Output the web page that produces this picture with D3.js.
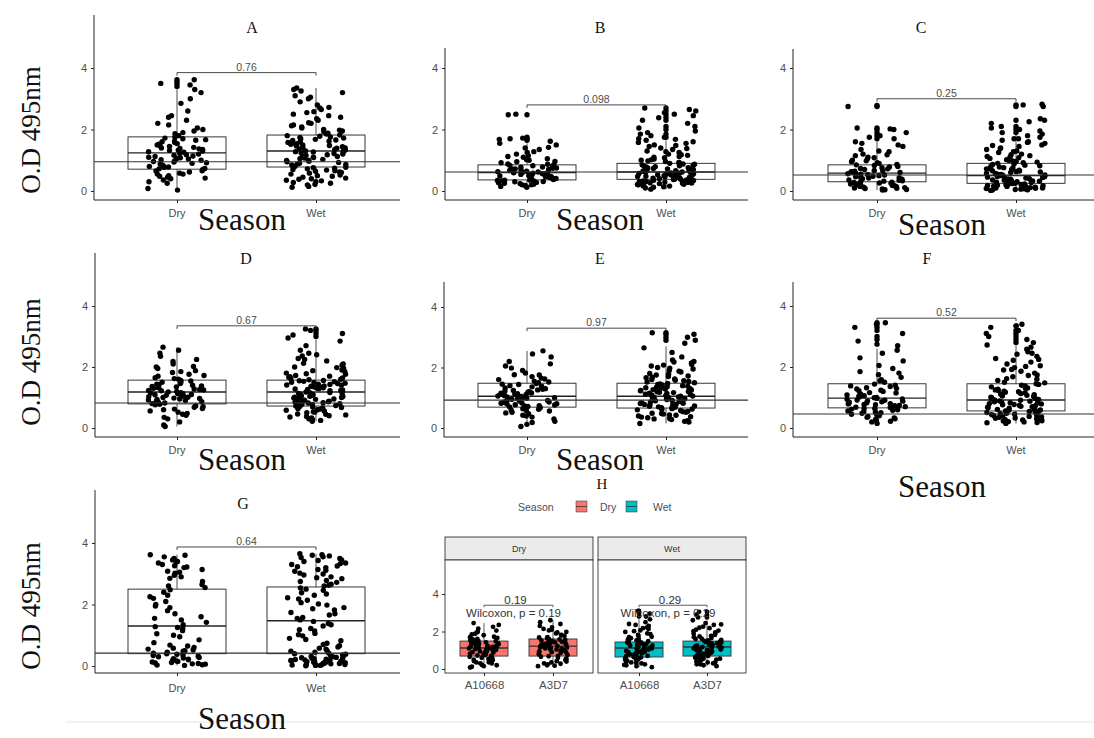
<!DOCTYPE html>
<html lang="en">
<head>
<meta charset="UTF-8">
<title>O.D 495nm by season</title>
<style>
  body { margin: 0; background: #fff; }
  svg { display: block; }
  .tick text { font-family: "Liberation Sans", Arial, sans-serif; fill: #4d4d4d; }
</style>
<script src="https://d3js.org/d3.v7.min.js"></script>
</head>
<body>
<script>
var seasons = ["Dry", "Wet"];
var yTicks = [0, 2, 4];
var panelNames = ["A", "B", "C", "D", "E", "F", "G"];
var pValues = ["0.76", "0.098", "0.25", "0.67", "0.97", "0.52", "0.64"];
var cutoffs = [0.95, 0.62, 0.52, 0.82, 0.92, 0.46, 0.42];
var bracketY = [3.85, 2.8, 3.0, 3.35, 3.3, 3.6, 3.87];

// box stats: [q1, median, q3, lower whisker, upper whisker]
var boxDry = [
  [0.71, 1.24, 1.76, 0.03, 3.3], [0.36, 0.60, 0.85, 0.10, 1.55], [0.30, 0.58, 0.85, 0.03, 1.6],
  [0.79, 1.18, 1.57, 0.05, 2.65], [0.69, 1.05, 1.48, 0.05, 2.55], [0.66, 0.98, 1.45, 0.15, 2.6],
  [0.40, 1.30, 2.50, 0.02, 3.62]
];
var boxWet = [
  [0.78, 1.30, 1.82, 0.12, 3.35], [0.38, 0.62, 0.90, 0.06, 1.65], [0.25, 0.50, 0.90, 0.03, 1.85],
  [0.72, 1.18, 1.57, 0.22, 2.9], [0.66, 1.05, 1.48, 0.15, 2.7], [0.56, 0.92, 1.45, 0.15, 2.7],
  [0.40, 1.47, 2.57, 0.01, 3.65]
];
var outDry = [
  [3.4, 3.48, 3.55, 3.62], [1.65, 1.7, 1.75, 2.48], [1.7, 1.8, 1.9, 2.0, 2.05, 2.75, 2.78],
  [], [], [2.75, 2.9, 3.0, 3.2, 3.3, 3.4, 3.45], []
];
var outWet = [
  [], [1.75, 1.85, 2.0, 2.1, 2.3, 2.4, 2.5, 2.6, 2.7], [1.9, 2.0, 2.1, 2.3, 2.75, 2.8],
  [3.0, 3.1, 3.2, 3.25], [2.9, 3.0, 3.1, 3.15], [2.8, 2.9, 3.0, 3.1, 3.2, 3.35], []
];

var aDry = [0.03, 0.08, 0.25, 0.3, 0.36, 0.42, 0.45, 0.5, 0.55, 0.58, 0.62, 0.66, 0.7, 0.73, 0.77, 0.8, 0.85, 0.88, 0.92, 0.96, 1.0, 1.04, 1.08, 1.12, 1.16, 1.2, 1.26, 1.3, 1.33, 1.37, 1.4, 1.45, 1.5, 1.54, 1.58, 1.62, 1.67, 1.72, 1.75, 1.8, 1.86, 1.95, 2.05, 2.15, 2.3, 2.45, 2.6, 2.85, 3.0, 3.2, 3.3, 3.45, 3.62, 3.5,
  0.55, 0.65, 0.72, 0.78, 0.82, 0.9, 0.94, 0.98, 1.06, 1.1, 1.14, 1.18, 1.22, 1.28, 1.32, 1.35, 1.42, 1.47, 1.52, 1.6, 1.65, 1.7, 1.9, 2.0, 2.2, 2.4, 0.4, 0.48, 1.02, 1.38];
var aWet = [0.12, 0.15, 0.2, 0.22, 0.28, 0.3, 0.35, 0.4, 0.45, 0.5, 0.52, 0.58, 0.62, 0.66, 0.7, 0.74, 0.77, 0.8, 0.83, 0.86, 0.9, 0.93, 0.97, 1.0, 1.03, 1.07, 1.1, 1.14, 1.18, 1.22, 1.25, 1.28, 1.3, 1.33, 1.37, 1.4, 1.44, 1.48, 1.52, 1.56, 1.6, 1.64, 1.68, 1.72, 1.76, 1.8, 1.82, 1.88, 1.95, 2.0, 2.08, 2.15, 2.22, 2.3, 2.4, 2.5, 2.58, 2.65, 2.72, 2.8, 2.9, 3.0, 3.05, 3.1, 3.2, 3.25, 3.3, 3.35,
  0.25, 0.33, 0.38, 0.42, 0.48, 0.55, 0.6, 0.64, 0.68, 0.72, 0.76, 0.85, 0.88, 0.95, 0.99, 1.05, 1.09, 1.12, 1.16, 1.2, 1.24, 1.27, 1.32, 1.35, 1.39, 1.42, 1.46, 1.5, 1.54, 1.58, 1.62, 1.66, 1.7, 1.74, 1.78, 1.85, 1.92, 1.98, 2.05, 2.12, 2.2, 2.35, 2.45, 2.55, 2.7];
var bDry = [0.12, 0.15, 0.18, 0.2, 0.22, 0.25, 0.27, 0.3, 0.32, 0.34, 0.36, 0.38, 0.4, 0.42, 0.45, 0.47, 0.5, 0.52, 0.55, 0.57, 0.6, 0.62, 0.64, 0.67, 0.7, 0.72, 0.75, 0.78, 0.8, 0.83, 0.85, 0.88, 0.92, 0.96, 1.0, 1.05, 1.1, 1.15, 1.2, 1.28, 1.35, 1.42, 1.5, 1.55, 1.62, 1.68, 1.7, 1.72, 2.48, 2.5,
  0.2, 0.24, 0.28, 0.31, 0.35, 0.37, 0.41, 0.44, 0.46, 0.49, 0.51, 0.54, 0.56, 0.59, 0.61, 0.63, 0.66, 0.69, 0.71, 0.74, 0.77, 0.82, 0.87, 0.95, 1.02, 1.12, 1.25, 1.4, 0.33, 0.58];
var bWet = [0.06, 0.1, 0.14, 0.17, 0.2, 0.22, 0.24, 0.26, 0.28, 0.3, 0.32, 0.34, 0.36, 0.38, 0.4, 0.42, 0.44, 0.46, 0.48, 0.5, 0.52, 0.54, 0.56, 0.58, 0.6, 0.62, 0.64, 0.66, 0.68, 0.7, 0.73, 0.76, 0.79, 0.82, 0.85, 0.88, 0.9, 0.93, 0.96, 1.0, 1.04, 1.08, 1.12, 1.16, 1.2, 1.25, 1.3, 1.35, 1.4, 1.45, 1.5, 1.55, 1.6, 1.65, 1.7, 1.75, 1.8, 1.85, 1.95, 2.05, 2.1, 2.2, 2.3, 2.38, 2.45, 2.5, 2.55, 2.6, 2.65, 2.7,
  0.12, 0.16, 0.19, 0.21, 0.23, 0.25, 0.27, 0.29, 0.31, 0.33, 0.35, 0.37, 0.39, 0.41, 0.43, 0.45, 0.47, 0.49, 0.51, 0.53, 0.55, 0.57, 0.59, 0.61, 0.63, 0.65, 0.67, 0.69, 0.72, 0.75, 0.78, 0.81, 0.84, 0.87, 0.92, 0.98, 1.02, 1.1, 1.18, 1.28, 1.38, 1.48, 1.58, 1.68, 1.9];
var cDry = [0.03, 0.05, 0.08, 0.1, 0.12, 0.15, 0.18, 0.2, 0.23, 0.26, 0.28, 0.3, 0.33, 0.36, 0.4, 0.43, 0.46, 0.5, 0.53, 0.56, 0.58, 0.61, 0.64, 0.67, 0.7, 0.73, 0.76, 0.8, 0.83, 0.86, 0.9, 0.95, 1.0, 1.05, 1.1, 1.15, 1.2, 1.28, 1.35, 1.45, 1.5, 1.6, 1.7, 1.75, 1.8, 1.9, 2.0, 2.02, 2.05, 2.75,
  0.04, 0.07, 0.09, 0.11, 0.14, 0.17, 0.19, 0.22, 0.25, 0.29, 0.32, 0.35, 0.38, 0.42, 0.45, 0.48, 0.52, 0.55, 0.6, 0.63, 0.66, 0.72, 0.78, 0.85, 0.92, 0.98, 1.08, 1.18, 1.3, 1.55];
var cWet = [0.03, 0.05, 0.06, 0.08, 0.1, 0.11, 0.13, 0.15, 0.17, 0.19, 0.21, 0.23, 0.25, 0.27, 0.29, 0.31, 0.33, 0.35, 0.38, 0.4, 0.42, 0.45, 0.47, 0.5, 0.52, 0.55, 0.58, 0.6, 0.63, 0.66, 0.7, 0.73, 0.76, 0.8, 0.84, 0.88, 0.9, 0.94, 0.98, 1.02, 1.06, 1.1, 1.15, 1.2, 1.25, 1.3, 1.35, 1.4, 1.45, 1.5, 1.55, 1.6, 1.65, 1.7, 1.75, 1.8, 1.85, 1.9, 1.95, 2.0, 2.05, 2.1, 2.2, 2.25, 2.3, 2.35, 2.75, 2.8, 2.82, 1.7,
  0.02, 0.04, 0.05, 0.07, 0.09, 0.1, 0.12, 0.14, 0.16, 0.18, 0.2, 0.22, 0.24, 0.26, 0.28, 0.3, 0.32, 0.34, 0.36, 0.39, 0.41, 0.44, 0.46, 0.49, 0.51, 0.54, 0.57, 0.62, 0.65, 0.68, 0.72, 0.75, 0.78, 0.82, 0.86, 0.92, 0.96, 1.0, 1.08, 1.12, 1.18, 1.28, 1.38, 1.48, 1.58];
var dDry = [0.05, 0.1, 0.2, 0.3, 0.35, 0.42, 0.48, 0.52, 0.56, 0.6, 0.64, 0.68, 0.72, 0.76, 0.8, 0.84, 0.88, 0.92, 0.95, 0.98, 1.01, 1.04, 1.07, 1.1, 1.13, 1.16, 1.2, 1.23, 1.26, 1.3, 1.33, 1.36, 1.4, 1.44, 1.48, 1.52, 1.56, 1.6, 1.65, 1.7, 1.76, 1.82, 1.88, 1.95, 2.02, 2.1, 2.18, 2.25, 2.35, 2.45, 2.55, 2.65,
  0.62, 0.7, 0.78, 0.82, 0.86, 0.9, 0.94, 0.97, 1.0, 1.03, 1.06, 1.09, 1.12, 1.15, 1.18, 1.22, 1.25, 1.28, 1.32, 1.35, 1.38, 1.42, 1.46, 1.5, 1.54, 1.62, 1.72, 1.85, 0.45, 2.0];
var dWet = [0.22, 0.25, 0.3, 0.33, 0.36, 0.4, 0.43, 0.46, 0.5, 0.53, 0.56, 0.6, 0.63, 0.66, 0.69, 0.71, 0.74, 0.77, 0.8, 0.83, 0.86, 0.89, 0.92, 0.95, 0.98, 1.01, 1.04, 1.07, 1.1, 1.13, 1.16, 1.2, 1.23, 1.26, 1.29, 1.32, 1.35, 1.38, 1.41, 1.44, 1.47, 1.5, 1.53, 1.56, 1.6, 1.64, 1.68, 1.72, 1.76, 1.8, 1.85, 1.9, 1.95, 2.0, 2.06, 2.12, 2.2, 2.28, 2.36, 2.45, 2.55, 2.7, 2.85, 2.95, 3.05, 3.1, 3.2, 3.25,
  0.28, 0.38, 0.45, 0.52, 0.58, 0.62, 0.67, 0.72, 0.75, 0.78, 0.82, 0.85, 0.88, 0.91, 0.94, 0.97, 1.0, 1.03, 1.06, 1.09, 1.12, 1.15, 1.18, 1.22, 1.25, 1.28, 1.31, 1.34, 1.37, 1.4, 1.43, 1.46, 1.49, 1.52, 1.55, 1.58, 1.62, 1.66, 1.7, 1.78, 1.88, 1.98, 2.1, 2.25, 2.4];
var eDry = [0.05, 0.12, 0.18, 0.22, 0.3, 0.36, 0.42, 0.47, 0.52, 0.56, 0.6, 0.64, 0.68, 0.71, 0.74, 0.77, 0.8, 0.83, 0.86, 0.89, 0.92, 0.95, 0.98, 1.01, 1.04, 1.07, 1.1, 1.13, 1.16, 1.2, 1.24, 1.28, 1.32, 1.36, 1.4, 1.44, 1.47, 1.5, 1.55, 1.6, 1.65, 1.7, 1.76, 1.82, 1.9, 1.98, 2.05, 2.12, 2.2, 2.35, 2.45, 2.55,
  0.4, 0.5, 0.58, 0.62, 0.66, 0.7, 0.73, 0.76, 0.79, 0.82, 0.85, 0.88, 0.91, 0.94, 0.97, 1.0, 1.03, 1.06, 1.09, 1.12, 1.15, 1.18, 1.22, 1.26, 1.3, 1.38, 1.45, 1.52, 1.62, 1.75];
var eWet = [0.15, 0.2, 0.24, 0.28, 0.31, 0.34, 0.37, 0.4, 0.43, 0.46, 0.49, 0.52, 0.55, 0.58, 0.61, 0.64, 0.67, 0.7, 0.73, 0.76, 0.79, 0.82, 0.85, 0.88, 0.91, 0.94, 0.97, 1.0, 1.03, 1.06, 1.09, 1.12, 1.15, 1.18, 1.21, 1.24, 1.27, 1.3, 1.33, 1.36, 1.4, 1.44, 1.47, 1.5, 1.54, 1.58, 1.62, 1.66, 1.7, 1.75, 1.8, 1.85, 1.9, 1.95, 2.0, 2.05, 2.1, 2.15, 2.2, 2.25, 2.35, 2.5, 2.65, 2.8, 2.9, 3.0, 3.1, 3.15,
  0.22, 0.3, 0.36, 0.42, 0.48, 0.54, 0.6, 0.63, 0.66, 0.69, 0.72, 0.75, 0.78, 0.81, 0.84, 0.87, 0.9, 0.93, 0.96, 0.99, 1.02, 1.05, 1.08, 1.11, 1.14, 1.17, 1.2, 1.23, 1.26, 1.29, 1.32, 1.35, 1.38, 1.42, 1.46, 1.52, 1.56, 1.6, 1.68, 1.72, 1.78, 1.88, 1.98, 2.08, 2.18];
var fDry = [0.15, 0.2, 0.25, 0.3, 0.35, 0.4, 0.45, 0.5, 0.54, 0.58, 0.62, 0.65, 0.68, 0.71, 0.74, 0.77, 0.8, 0.83, 0.86, 0.89, 0.92, 0.95, 0.97, 1.0, 1.04, 1.08, 1.12, 1.16, 1.2, 1.24, 1.28, 1.32, 1.36, 1.4, 1.44, 1.5, 1.58, 1.66, 1.75, 1.85, 1.95, 2.05, 2.2, 2.3, 2.45, 2.55, 2.7, 2.85, 3.1, 3.3, 3.4, 3.45,
  0.22, 0.28, 0.33, 0.38, 0.43, 0.48, 0.52, 0.56, 0.6, 0.64, 0.67, 0.7, 0.73, 0.76, 0.79, 0.82, 0.85, 0.88, 0.91, 0.94, 0.99, 1.02, 1.06, 1.1, 1.15, 1.22, 1.3, 1.38, 1.55, 1.8];
var fWet = [0.15, 0.18, 0.21, 0.24, 0.27, 0.3, 0.33, 0.36, 0.39, 0.42, 0.45, 0.48, 0.51, 0.54, 0.56, 0.59, 0.62, 0.65, 0.68, 0.71, 0.74, 0.77, 0.8, 0.83, 0.86, 0.89, 0.92, 0.95, 0.99, 1.03, 1.07, 1.11, 1.15, 1.19, 1.23, 1.27, 1.31, 1.35, 1.4, 1.45, 1.5, 1.56, 1.62, 1.68, 1.74, 1.8, 1.86, 1.92, 1.98, 2.04, 2.1, 2.16, 2.22, 2.28, 2.35, 2.42, 2.5, 2.58, 2.65, 2.72, 2.8, 2.9, 3.0, 3.1, 3.2, 3.3, 3.35, 3.4,
  0.17, 0.2, 0.23, 0.26, 0.29, 0.32, 0.35, 0.38, 0.41, 0.44, 0.47, 0.5, 0.53, 0.55, 0.58, 0.61, 0.64, 0.67, 0.7, 0.73, 0.76, 0.79, 0.82, 0.85, 0.88, 0.91, 0.94, 0.97, 1.01, 1.05, 1.09, 1.13, 1.17, 1.21, 1.25, 1.3, 1.38, 1.43, 1.48, 1.6, 1.72, 1.9, 2.02, 2.25, 2.45];
var gDry = [0.02, 0.04, 0.06, 0.08, 0.1, 0.13, 0.16, 0.2, 0.24, 0.28, 0.32, 0.36, 0.4, 0.45, 0.5, 0.55, 0.6, 0.68, 0.76, 0.85, 0.95, 1.05, 1.15, 1.22, 1.28, 1.34, 1.42, 1.5, 1.6, 1.7, 1.8, 1.9, 2.0, 2.1, 2.2, 2.3, 2.4, 2.48, 2.55, 2.65, 2.75, 2.85, 2.95, 3.02, 3.08, 3.14, 3.2, 3.26, 3.3, 3.35, 3.4, 3.45, 3.5, 3.55, 3.6, 3.62,
  0.03, 0.07, 0.11, 0.15, 0.18, 0.22, 0.26, 0.3, 0.34, 0.38, 0.42, 0.48, 0.52, 0.58, 0.65, 1.0, 1.25, 1.55, 1.95, 2.25, 2.6, 2.9, 3.05, 3.22, 3.38];
var gWet = [0.01, 0.03, 0.05, 0.07, 0.09, 0.11, 0.13, 0.15, 0.18, 0.21, 0.24, 0.27, 0.3, 0.33, 0.36, 0.4, 0.45, 0.5, 0.58, 0.66, 0.74, 0.82, 0.9, 0.98, 1.06, 1.14, 1.22, 1.3, 1.38, 1.45, 1.5, 1.58, 1.66, 1.74, 1.82, 1.9, 1.98, 2.06, 2.14, 2.22, 2.3, 2.38, 2.46, 2.54, 2.6, 2.66, 2.72, 2.78, 2.84, 2.9, 2.96, 3.02, 3.08, 3.14, 3.2, 3.25, 3.3, 3.35, 3.4, 3.45, 3.5, 3.55, 3.58, 3.6, 3.62, 3.65, 0.02, 0.06, 0.1, 0.14, 0.2, 0.25,
  0.02, 0.04, 0.06, 0.08, 0.1, 0.12, 0.14, 0.16, 0.19, 0.22, 0.25, 0.28, 0.31, 0.34, 0.38, 0.42, 0.48, 0.55, 0.62, 0.7, 0.86, 1.02, 1.18, 1.34, 1.55, 1.7, 1.86, 2.02, 2.18, 2.34, 2.5, 2.63, 2.75, 2.87, 2.99, 3.11, 3.23, 3.33, 3.43, 3.53];
var ptsDry = [aDry, bDry, cDry, dDry, eDry, fDry, gDry];
var ptsWet = [aWet, bWet, cWet, dWet, eWet, fWet, gWet];

// panel H: antigen by season
var hAntigens = ["A10668", "A3D7"];
var hBoxDry = [[0.69, 1.12, 1.49, 0.08, 2.45], [0.69, 1.22, 1.60, 0.15, 2.6]];
var hBoxWet = [[0.64, 1.12, 1.44, 0.10, 2.65], [0.69, 1.17, 1.49, 0.15, 2.6]];
var hOutWet = [[2.8, 2.95, 3.1], [2.75, 2.9, 3.05]];
var hP = ["0.19", "0.29"];
var hBracket = [3.4, 3.4];
var hDryA10668 = [0.08, 0.15, 0.22, 0.3, 0.36, 0.42, 0.48, 0.54, 0.6, 0.65, 0.7, 0.74, 0.78, 0.82, 0.86, 0.9, 0.94, 0.98, 1.02, 1.06, 1.1, 1.14, 1.18, 1.22, 1.26, 1.3, 1.34, 1.38, 1.42, 1.46, 1.5, 1.55, 1.6, 1.66, 1.72, 1.8, 1.88, 1.96, 2.05, 2.15, 2.25, 2.35, 2.45, 0.12, 0.2,
  0.35, 0.5, 0.62, 0.72, 0.8, 0.88, 0.96, 1.0, 1.04, 1.08, 1.12, 1.16, 1.2, 1.24, 1.28, 1.32, 1.36, 1.4, 1.48, 1.58, 1.7, 1.84, 2.0, 0.3, 0.45];
var hDryA3D7 = [0.15, 0.2, 0.28, 0.35, 0.42, 0.48, 0.54, 0.6, 0.65, 0.7, 0.75, 0.8, 0.85, 0.9, 0.95, 1.0, 1.04, 1.08, 1.12, 1.16, 1.2, 1.24, 1.28, 1.32, 1.36, 1.4, 1.45, 1.5, 1.55, 1.6, 1.65, 1.7, 1.76, 1.82, 1.9, 1.98, 2.06, 2.14, 2.22, 2.3, 2.4, 2.5, 2.6, 0.25, 0.18,
  0.4, 0.55, 0.68, 0.78, 0.88, 0.98, 1.02, 1.06, 1.1, 1.14, 1.18, 1.22, 1.26, 1.3, 1.34, 1.38, 1.42, 1.48, 1.52, 1.58, 1.68, 1.8, 1.95, 2.1, 0.3];
var hWetA10668 = [0.1, 0.15, 0.2, 0.25, 0.3, 0.35, 0.4, 0.45, 0.5, 0.55, 0.6, 0.64, 0.68, 0.72, 0.76, 0.8, 0.84, 0.88, 0.92, 0.96, 1.0, 1.04, 1.08, 1.12, 1.16, 1.2, 1.24, 1.28, 1.32, 1.36, 1.4, 1.44, 1.48, 1.53, 1.58, 1.64, 1.7, 1.76, 1.82, 1.9, 1.98, 2.06, 2.14, 2.22, 2.3, 2.4, 2.5, 2.65, 2.8, 2.95, 3.1,
  0.22, 0.32, 0.42, 0.52, 0.62, 0.7, 0.78, 0.86, 0.94, 1.02, 1.1, 1.18, 1.26, 1.34, 1.42, 1.5, 1.6, 1.72, 1.86, 2.02, 2.18, 2.35, 0.5, 0.9, 1.3];
var hWetA3D7 = [0.15, 0.2, 0.25, 0.3, 0.35, 0.4, 0.45, 0.5, 0.55, 0.6, 0.65, 0.7, 0.74, 0.78, 0.82, 0.86, 0.9, 0.94, 0.98, 1.02, 1.06, 1.1, 1.14, 1.18, 1.22, 1.26, 1.3, 1.34, 1.38, 1.42, 1.46, 1.5, 1.55, 1.6, 1.65, 1.7, 1.76, 1.82, 1.88, 1.95, 2.02, 2.1, 2.18, 2.26, 2.35, 2.45, 2.6, 2.75, 2.9, 3.05,
  0.25, 0.35, 0.45, 0.55, 0.65, 0.72, 0.8, 0.88, 0.96, 1.04, 1.12, 1.2, 1.28, 1.36, 1.44, 1.52, 1.62, 1.74, 1.9, 2.05, 2.2, 2.38, 0.6, 1.0, 1.4];
var hPtsDry = [hDryA10668, hDryA3D7];
var hPtsWet = [hWetA10668, hWetA3D7];

var W = 1094, H = 738;
var SERIF = '"Liberation Serif", "Times New Roman", serif';
var SANS = '"Liberation Sans", Arial, sans-serif';
var INK = "#222";

// where each small plot sits in the composite
var layout = [
  {x0: 94, x1: 400, top: 15, bot: 200, y0: 191, y4: 68, cx: [177, 316], title: [252, 33], season: [242, 230], tickY: 217},
  {x0: 445, x1: 748, top: 48, bot: 200, y0: 191, y4: 68, cx: [527, 666], title: [600, 33], season: [600, 230], tickY: 217},
  {x0: 793, x1: 1094, top: 49, bot: 200, y0: 191, y4: 68, cx: [877, 1016], title: [921, 33], season: [942, 235], tickY: 217},
  {x0: 95, x1: 400, top: 253, bot: 437, y0: 428, y4: 306, cx: [177, 316], title: [246, 264], season: [242, 470], tickY: 454},
  {x0: 444, x1: 748, top: 282, bot: 437, y0: 428, y4: 307, cx: [527, 666], title: [600, 264], season: [600, 470], tickY: 454},
  {x0: 793, x1: 1094, top: 282, bot: 437, y0: 428, y4: 306, cx: [877, 1016], title: [927, 264], season: [942, 497], tickY: 454},
  {x0: 95, x1: 400, top: 490, bot: 673, y0: 666, y4: 543, cx: [177, 316], title: [243, 509], season: [242, 729], tickY: 692}
];

// deterministic jitter offset from an integer hash of the point index
function jit(i, w) {
  var h = Math.imul(i + 1, 374761393);
  h = Math.imul(h ^ (h >>> 13), 1274126177);
  h = (h ^ (h >>> 16)) >>> 0;
  return (h / 4294967296 - 0.5) * 2 * w;
}

var svg = d3.select("body").append("svg").attr("width", W).attr("height", H);
svg.append("rect").attr("width", W).attr("height", H).attr("fill", "#fff");
// faint frame of the composite
svg.append("line").attr("x1", 66).attr("x2", W).attr("y1", 722).attr("y2", 722)
  .attr("stroke", "#eee").attr("stroke-width", 1.5);

// y titles
[130, 362, 606].forEach(function (cy) {
  svg.append("text").attr("transform", "translate(40," + cy + ") rotate(-90)")
    .attr("text-anchor", "middle").attr("font-family", SERIF).attr("font-size", 27)
    .attr("fill", "#111").text("O.D 495nm");
});

function drawBox(g, cx, s, y, half, fill, stroke) {
  g.append("line").attr("x1", cx).attr("x2", cx).attr("y1", y(s[2])).attr("y2", y(s[4]))
    .attr("stroke", stroke).attr("stroke-width", 0.8);
  g.append("line").attr("x1", cx).attr("x2", cx).attr("y1", y(s[0])).attr("y2", y(s[3]))
    .attr("stroke", stroke).attr("stroke-width", 0.8);
  g.append("rect").attr("x", cx - half).attr("width", half * 2)
    .attr("y", y(s[2])).attr("height", y(s[0]) - y(s[2]))
    .attr("fill", fill).attr("stroke", stroke).attr("stroke-width", 0.9);
  g.append("line").attr("x1", cx - half).attr("x2", cx + half)
    .attr("y1", y(s[1])).attr("y2", y(s[1])).attr("stroke", stroke).attr("stroke-width", 1.4);
}

layout.forEach(function (L, p) {
  var g = svg.append("g");
  var y = d3.scaleLinear().domain([0, 4]).range([L.y0, L.y4]);
  var x = d3.scalePoint().domain(seasons).range(L.cx);

  // axes
  g.append("line").attr("x1", L.x0).attr("x2", L.x0).attr("y1", L.top).attr("y2", L.bot)
    .attr("stroke", INK).attr("stroke-width", 1);
  g.append("line").attr("x1", L.x0).attr("x2", L.x1).attr("y1", L.bot).attr("y2", L.bot)
    .attr("stroke", INK).attr("stroke-width", 1);
  var ya = g.append("g").attr("transform", "translate(" + L.x0 + ",0)")
    .call(d3.axisLeft(y).tickValues(yTicks).tickSize(3).tickPadding(4).tickFormat(d3.format("d")));
  ya.select(".domain").remove();
  ya.selectAll(".tick line").attr("stroke", INK);
  ya.selectAll(".tick text").attr("font-size", 11);
  var xa = g.append("g").attr("transform", "translate(0," + L.bot + ")")
    .call(d3.axisBottom(x).tickSize(3).tickFormat(""));
  xa.select(".domain").remove();
  xa.selectAll(".tick line").attr("stroke", INK);
  seasons.forEach(function (s) {
    g.append("text").attr("x", x(s)).attr("y", L.tickY).attr("text-anchor", "middle")
      .attr("font-family", SANS).attr("font-size", 11).attr("fill", "#4d4d4d").text(s);
  });

  // boxes
  drawBox(g, x("Dry"), boxDry[p], y, 49, "#fff", INK);
  drawBox(g, x("Wet"), boxWet[p], y, 49, "#fff", INK);

  // jittered points
  [ptsDry[p], ptsWet[p]].forEach(function (vals, k) {
    g.selectAll(null).data(vals).enter().append("circle")
      .attr("cx", function (d, i) { return x(seasons[k]) + jit(i + k * 1000 + p * 5000, 30); })
      .attr("cy", function (d) { return y(d); })
      .attr("r", 2.7).attr("fill", "#000");
  });
  // box plot outliers on the centre line
  [outDry[p], outWet[p]].forEach(function (vals, k) {
    g.selectAll(null).data(vals).enter().append("circle")
      .attr("cx", x(seasons[k])).attr("cy", function (d) { return y(d); })
      .attr("r", 2.7).attr("fill", "#000");
  });

  // cutoff line
  g.append("line").attr("x1", L.x0).attr("x2", L.x1)
    .attr("y1", y(cutoffs[p])).attr("y2", y(cutoffs[p]))
    .attr("stroke", "#333").attr("stroke-width", 1.1);

  // comparison bracket
  var by = y(bracketY[p]);
  g.append("path")
    .attr("d", "M" + x("Dry") + "," + (by + 3) + "V" + by + "H" + x("Wet") + "V" + (by + 3))
    .attr("fill", "none").attr("stroke", "#333").attr("stroke-width", 0.9);
  g.append("text").attr("x", (x("Dry") + x("Wet")) / 2).attr("y", by - 2)
    .attr("text-anchor", "middle").attr("font-family", SANS).attr("font-size", 10.5)
    .attr("fill", "#4d4d4d").text(pValues[p]);

  // titles
  g.append("text").attr("x", L.title[0]).attr("y", L.title[1]).attr("text-anchor", "middle")
    .attr("font-family", SERIF).attr("font-size", 16).attr("fill", "#111").text(panelNames[p]);
  g.append("text").attr("x", L.season[0]).attr("y", L.season[1]).attr("text-anchor", "middle")
    .attr("font-family", SERIF).attr("font-size", 31).attr("fill", "#111").text("Season");
});

// ---------- panel H ----------
var hg = svg.append("g");
var hColors = {Dry: "#F8766D", Wet: "#00BFC4"};
var hPanels = [{name: "Dry", x0: 445, x1: 593, cx: [484, 553]}, {name: "Wet", x0: 598, x1: 746, cx: [639, 707]}];
var hTop = 537, hStrip = 560, hBot = 673;
var hy = d3.scaleLinear().domain([0, 4]).range([669, 594]);

hg.append("text").attr("x", 602).attr("y", 489).attr("text-anchor", "middle")
  .attr("font-family", SERIF).attr("font-size", 15).attr("fill", "#111").text("H");

// legend
var lg = hg.append("g").attr("font-family", SANS).attr("font-size", 10.5).attr("fill", "#4d4d4d");
lg.append("text").attr("x", 518).attr("y", 511).text("Season");
[["Dry", 576, 600], ["Wet", 626, 653]].forEach(function (d) {
  lg.append("rect").attr("x", d[1]).attr("y", 501).attr("width", 11).attr("height", 11)
    .attr("fill", hColors[d[0]]).attr("stroke", "#333").attr("stroke-width", 0.5);
  lg.append("line").attr("x1", d[1]).attr("x2", d[1] + 11).attr("y1", 506.5).attr("y2", 506.5)
    .attr("stroke", "#333").attr("stroke-width", 0.8);
  lg.append("text").attr("x", d[2]).attr("y", 511).text(d[0]);
});

hPanels.forEach(function (P, k) {
  var x = d3.scalePoint().domain(hAntigens).range(P.cx);
  var g = hg.append("g");
  g.append("rect").attr("x", P.x0).attr("y", hTop).attr("width", P.x1 - P.x0).attr("height", hStrip - hTop)
    .attr("fill", "#ebebeb").attr("stroke", "#333").attr("stroke-width", 0.9);
  g.append("text").attr("x", (P.x0 + P.x1) / 2).attr("y", 552).attr("text-anchor", "middle")
    .attr("font-family", SANS).attr("font-size", 9).attr("fill", "#333").text(P.name);
  g.append("rect").attr("x", P.x0).attr("y", hStrip).attr("width", P.x1 - P.x0).attr("height", hBot - hStrip)
    .attr("fill", "#fff").attr("stroke", "#333").attr("stroke-width", 0.9);

  var xa = g.append("g").attr("transform", "translate(0," + hBot + ")")
    .call(d3.axisBottom(x).tickSize(3).tickPadding(5));
  xa.select(".domain").remove();
  xa.selectAll(".tick line").attr("stroke", INK);
  xa.selectAll(".tick text").attr("font-size", 11.5);
  if (k === 0) {
    var ya = g.append("g").attr("transform", "translate(" + P.x0 + ",0)")
      .call(d3.axisLeft(hy).tickValues(yTicks).tickSize(3).tickPadding(3).tickFormat(d3.format("d")));
    ya.select(".domain").remove();
    ya.selectAll(".tick line").attr("stroke", INK);
    ya.selectAll(".tick text").attr("font-size", 11.5);
  }

  var stats = k === 0 ? hBoxDry : hBoxWet;
  var pts = k === 0 ? hPtsDry : hPtsWet;
  hAntigens.forEach(function (a, j) {
    drawBox(g, x(a), stats[j], hy, 24, hColors[P.name], "#333");
    g.selectAll(null).data(pts[j]).enter().append("circle")
      .attr("cx", function (d, i) { return x(a) + jit(i + j * 1000 + k * 3000 + 90000, 15); })
      .attr("cy", function (d) { return hy(d); })
      .attr("r", 2.4).attr("fill", "#000");
    if (k === 1) {
      g.selectAll(null).data(hOutWet[j]).enter().append("circle")
        .attr("cx", x(a)).attr("cy", function (d) { return hy(d); })
        .attr("r", 2.4).attr("fill", "#000");
    }
  });

  var by = hy(hBracket[k]);
  var mid = (x(hAntigens[0]) + x(hAntigens[1])) / 2;
  g.append("path")
    .attr("d", "M" + x(hAntigens[0]) + "," + (by + 2) + "V" + by + "H" + x(hAntigens[1]) + "V" + (by + 2))
    .attr("fill", "none").attr("stroke", "#333").attr("stroke-width", 0.8);
  g.append("text").attr("x", mid - 3).attr("y", by - 1).attr("text-anchor", "middle")
    .attr("font-family", SANS).attr("font-size", 11.5).attr("fill", "#333").text(hP[k]);
  g.append("text").attr("x", mid - 5).attr("y", by + 12).attr("text-anchor", "middle")
    .attr("font-family", SANS).attr("font-size", 11.5).attr("fill", "#333")
    .text("Wilcoxon, p = " + hP[k]);
});
</script>
</body>
</html>
